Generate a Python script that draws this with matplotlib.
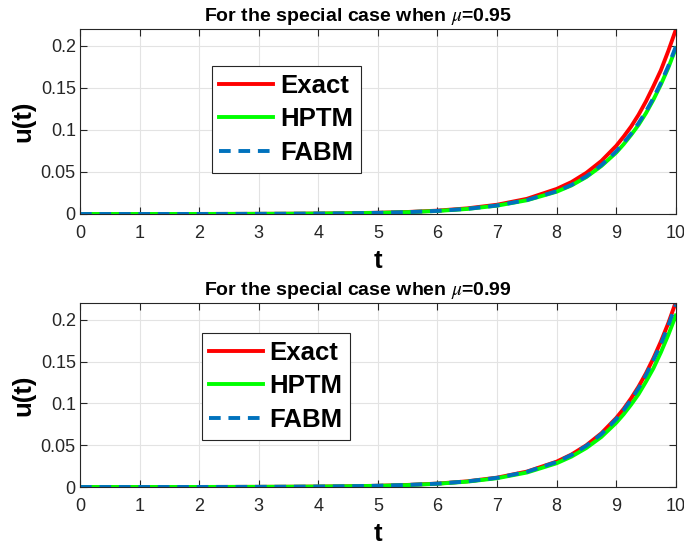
import matplotlib.pyplot as plt

plt.rcParams['font.family'] = ['Liberation Sans', 'DejaVu Sans']
plt.rcParams['mathtext.fontset'] = 'stix'

# values
t = [0, 0.5, 1, 1.5, 2, 2.5, 3, 3.5, 4, 4.5, 5, 5.5, 6, 6.5, 7, 7.5,
     8, 8.25, 8.5, 8.75, 9, 9.125, 9.25, 9.375, 9.5, 9.625, 9.75, 9.875, 10]

exact_95 = [0.00001, 0.00002, 0.00003, 0.00004, 0.00007, 0.00012, 0.0002, 0.00033,
            0.00055, 0.0009, 0.0015, 0.0024, 0.004, 0.0067, 0.011, 0.018,
            0.0298, 0.038, 0.049, 0.063, 0.081, 0.092, 0.104, 0.118, 0.134,
            0.152, 0.171, 0.194, 0.219]
hptm_95 = [0.00001, 0.00002, 0.00003, 0.00004, 0.00006, 0.0001, 0.00018, 0.0003,
           0.0005, 0.0008, 0.0013, 0.0022, 0.0036, 0.006, 0.0099, 0.0163,
           0.0265, 0.034, 0.044, 0.057, 0.073, 0.083, 0.094, 0.106, 0.12,
           0.136, 0.154, 0.174, 0.197]
fabm_95 = [0.00001, 0.00002, 0.00003, 0.00004, 0.00006, 0.0001, 0.00018, 0.0003,
           0.0005, 0.0008, 0.0014, 0.0022, 0.0037, 0.0061, 0.0101, 0.0166,
           0.027, 0.0346, 0.0448, 0.058, 0.0745, 0.0847, 0.0955, 0.108, 0.122,
           0.138, 0.156, 0.176, 0.199]

exact_99 = [0.00001, 0.00002, 0.00003, 0.00004, 0.00007, 0.00012, 0.0002, 0.00033,
            0.00055, 0.0009, 0.0015, 0.0025, 0.0041, 0.0068, 0.0112, 0.0184,
            0.0303, 0.0389, 0.05, 0.0642, 0.0825, 0.0935, 0.106, 0.12, 0.136,
            0.154, 0.174, 0.196, 0.221]
hptm_99 = [0.00001, 0.00002, 0.00003, 0.00004, 0.00007, 0.00011, 0.00019, 0.00031,
           0.00052, 0.00085, 0.0014, 0.0023, 0.0039, 0.0064, 0.0105, 0.0173,
           0.0284, 0.0364, 0.0467, 0.0598, 0.0768, 0.087, 0.0985, 0.111, 0.126,
           0.142, 0.161, 0.182, 0.205]
fabm_99 = [0.00001, 0.00002, 0.00003, 0.00004, 0.00007, 0.00012, 0.0002, 0.00033,
           0.00054, 0.0009, 0.0015, 0.0025, 0.004, 0.0067, 0.011, 0.0181,
           0.0299, 0.0383, 0.0493, 0.0632, 0.0812, 0.092, 0.1044, 0.118, 0.134,
           0.152, 0.171, 0.193, 0.218]

panels = [
    ('0.95', exact_95, hptm_95, fabm_95, [0.117, 0.6095, 0.871, 0.3376], (0.221, 0.80)),
    ('0.99', exact_99, hptm_99, fabm_99, [0.117, 0.1113, 0.871, 0.3358], (0.204, 0.837)),
]

fig = plt.figure(figsize=(6.84, 5.48), dpi=100)

for mu, ex, hp, fa, pos, leg_pos in panels:
    ax = fig.add_axes(pos)
    ax.plot(t, ex, color='#ff0000', lw=2.8, label='Exact')
    ax.plot(t, hp, color='#00ff00', lw=2.8, label='HPTM')
    ax.plot(t, fa, color='#0072bd', lw=2.8, ls=(0, (3, 2)), label='FABM')

    ax.set_xlim(0, 10)
    ax.set_ylim(0, 0.22)
    ax.set_xticks(range(11))
    ax.set_yticks([0, 0.05, 0.1, 0.15, 0.2])
    ax.set_yticklabels(['0', '0.05', '0.1', '0.15', '0.2'])
    ax.grid(True, color='#e3e3e3', lw=0.8)
    ax.set_axisbelow(True)
    ax.tick_params(direction='in', top=True, right=True, length=5,
                   labelsize=13, colors='#262626', width=0.8)
    ax.tick_params(axis='x', pad=8)
    ax.tick_params(axis='y', pad=3)
    for s in ax.spines.values():
        s.set_color('#262626')
        s.set_linewidth(0.8)

    ax.set_title(r'For the special case when $\mu$=' + mu, fontsize=14,
                 fontweight='bold', pad=6, x=0.466)
    ax.set_xlabel('t', fontsize=18.5, fontweight='bold', labelpad=5)
    ax.set_ylabel('u(t)', fontsize=18.5, fontweight='bold', labelpad=4)

    leg = ax.legend(loc='upper left', bbox_to_anchor=leg_pos,
                    prop={'weight': 'bold', 'size': 18.5}, fancybox=False,
                    edgecolor='#262626', framealpha=1, borderpad=0.3,
                    labelspacing=0.38, handlelength=2.1, handletextpad=0.25,
                    borderaxespad=0)
    leg.get_frame().set_linewidth(0.8)

fig.savefig('out.png', dpi=100)
